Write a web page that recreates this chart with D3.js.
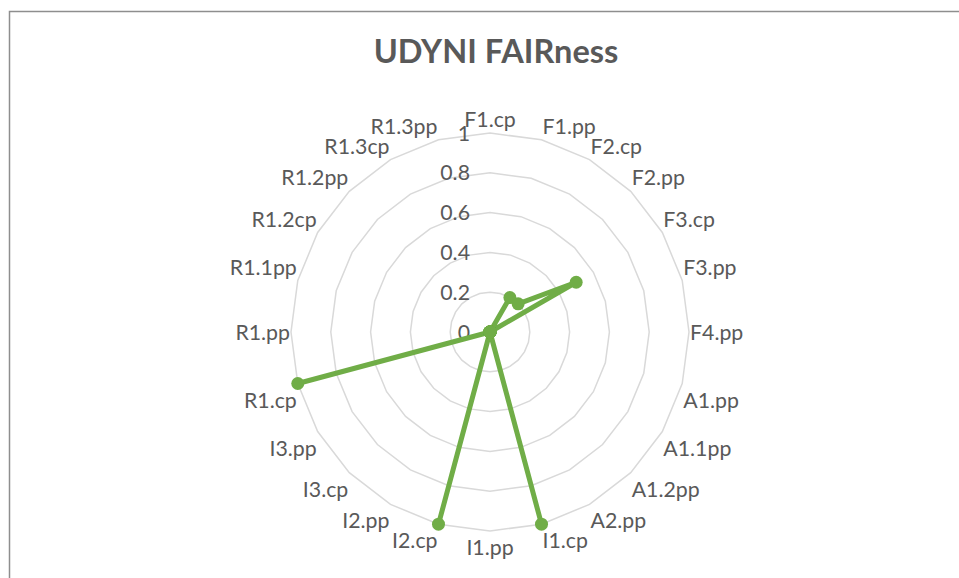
<!DOCTYPE html>
<head>
  <meta charset="utf-8">
  <script src="https://d3js.org/d3.v7.min.js"></script>
  <style>
    body { margin: 0; background: #fff; }
    text { font-family: Lato, "Open Sans", sans-serif; fill: #595959; }
  </style>
</head>

<body>
  <div id="chart"></div>
<script>
// categories, clockwise from the top
var categories = ["F1.cp", "F1.pp", "F2.cp", "F2.pp", "F3.cp", "F3.pp", "F4.pp",
    "A1.pp", "A1.1pp", "A1.2pp", "A2.pp", "I1.cp", "I1.pp", "I2.cp", "I2.pp",
    "I3.cp", "I3.pp", "R1.cp", "R1.pp", "R1.1pp", "R1.2cp", "R1.2pp", "R1.3cp", "R1.3pp"];
// FAIRness score per category
var values = [0, 0, 0.2, 0.2, 0.5, 0, 0,
    0, 0, 0, 0, 1, 0, 1, 0,
    0, 0, 1, 0, 0, 0, 0, 0, 0];
var ticks = [0, 0.2, 0.4, 0.6, 0.8, 1];
var title = "UDYNI FAIRness";

var width = 959, height = 578;
var cx = 490, cy = 332;

var svg = d3.select("#chart").append("svg")
    .attr("width", width)
    .attr("height", height);

// chart border
svg.append("rect")
    .attr("x", 9.5).attr("y", 11.5)
    .attr("width", 962).attr("height", 600)
    .attr("fill", "none")
    .attr("stroke", "#8e8e8e")
    .attr("stroke-width", 1.5);

svg.append("text")
    .attr("x", 496).attr("y", 63)
    .attr("text-anchor", "middle")
    .style("font-size", "32.5px")
    .style("font-weight", "bold")
    .text(title);

var r = d3.scaleLinear().domain([0, 1]).range([0, 199]);
var angle = d3.scaleLinear().domain([0, categories.length]).range([0, 2 * Math.PI]);

var g = svg.append("g").attr("transform", "translate(" + cx + "," + cy + ")");

// grid rings
var ring = d3.lineRadial()
    .angle(function(d, i) { return angle(i); })
    .radius(function(d) { return r(d); })
    .curve(d3.curveLinearClosed);

g.selectAll(".ring")
    .data(ticks.filter(function(t) { return t > 0; }))
  .enter().append("path")
    .attr("class", "ring")
    .attr("d", function(t) { return ring(categories.map(function() { return t; })); })
    .attr("fill", "none")
    .attr("stroke", "#d9d9d9")
    .attr("stroke-width", 1.5);

// tick labels
g.selectAll(".tick")
    .data(ticks)
  .enter().append("text")
    .attr("class", "tick")
    .attr("x", -20)
    .attr("y", function(t) { return -r(t) + 7.5; })
    .attr("text-anchor", "end")
    .style("font-size", "21.3px")
    .text(function(t) { return t; });

// category labels
function vx(i, v) { return r(v) * Math.sin(angle(i)); }
function vy(i, v) { return -r(v) * Math.cos(angle(i)); }

g.selectAll(".cat")
    .data(categories)
  .enter().append("text")
    .attr("class", "cat")
    .style("font-size", "21.3px")
    .attr("text-anchor", function(d, i) {
        var s = Math.sin(angle(i));
        return s > 0.01 ? "start" : (s < -0.01 ? "end" : "middle");
    })
    .attr("x", function(d, i) {
        var s = Math.sin(angle(i));
        return vx(i, 1) + (s > 0.01 ? 1 : (s < -0.01 ? -1 : 0));
    })
    .attr("y", function(d, i) {
        var c = Math.cos(angle(i));
        if (Math.abs(c) < 0.01) return vy(i, 1) + 8;
        return vy(i, 1) + (c > 0 ? -6 : 24);
    })
    .text(function(d) { return d; });

// data series
var line = d3.lineRadial()
    .angle(function(d, i) { return angle(i); })
    .radius(function(d) { return r(d); })
    .curve(d3.curveLinearClosed);

g.append("path")
    .attr("d", line(values))
    .attr("fill", "none")
    .attr("stroke", "#70ad47")
    .attr("stroke-width", 5)
    .attr("stroke-linejoin", "round");

g.selectAll(".dot")
    .data(values)
  .enter().append("circle")
    .attr("class", "dot")
    .attr("cx", function(d, i) { return vx(i, d); })
    .attr("cy", function(d, i) { return vy(i, d); })
    .attr("r", 6.5)
    .attr("fill", "#70ad47");
</script>
</body>
</html>
